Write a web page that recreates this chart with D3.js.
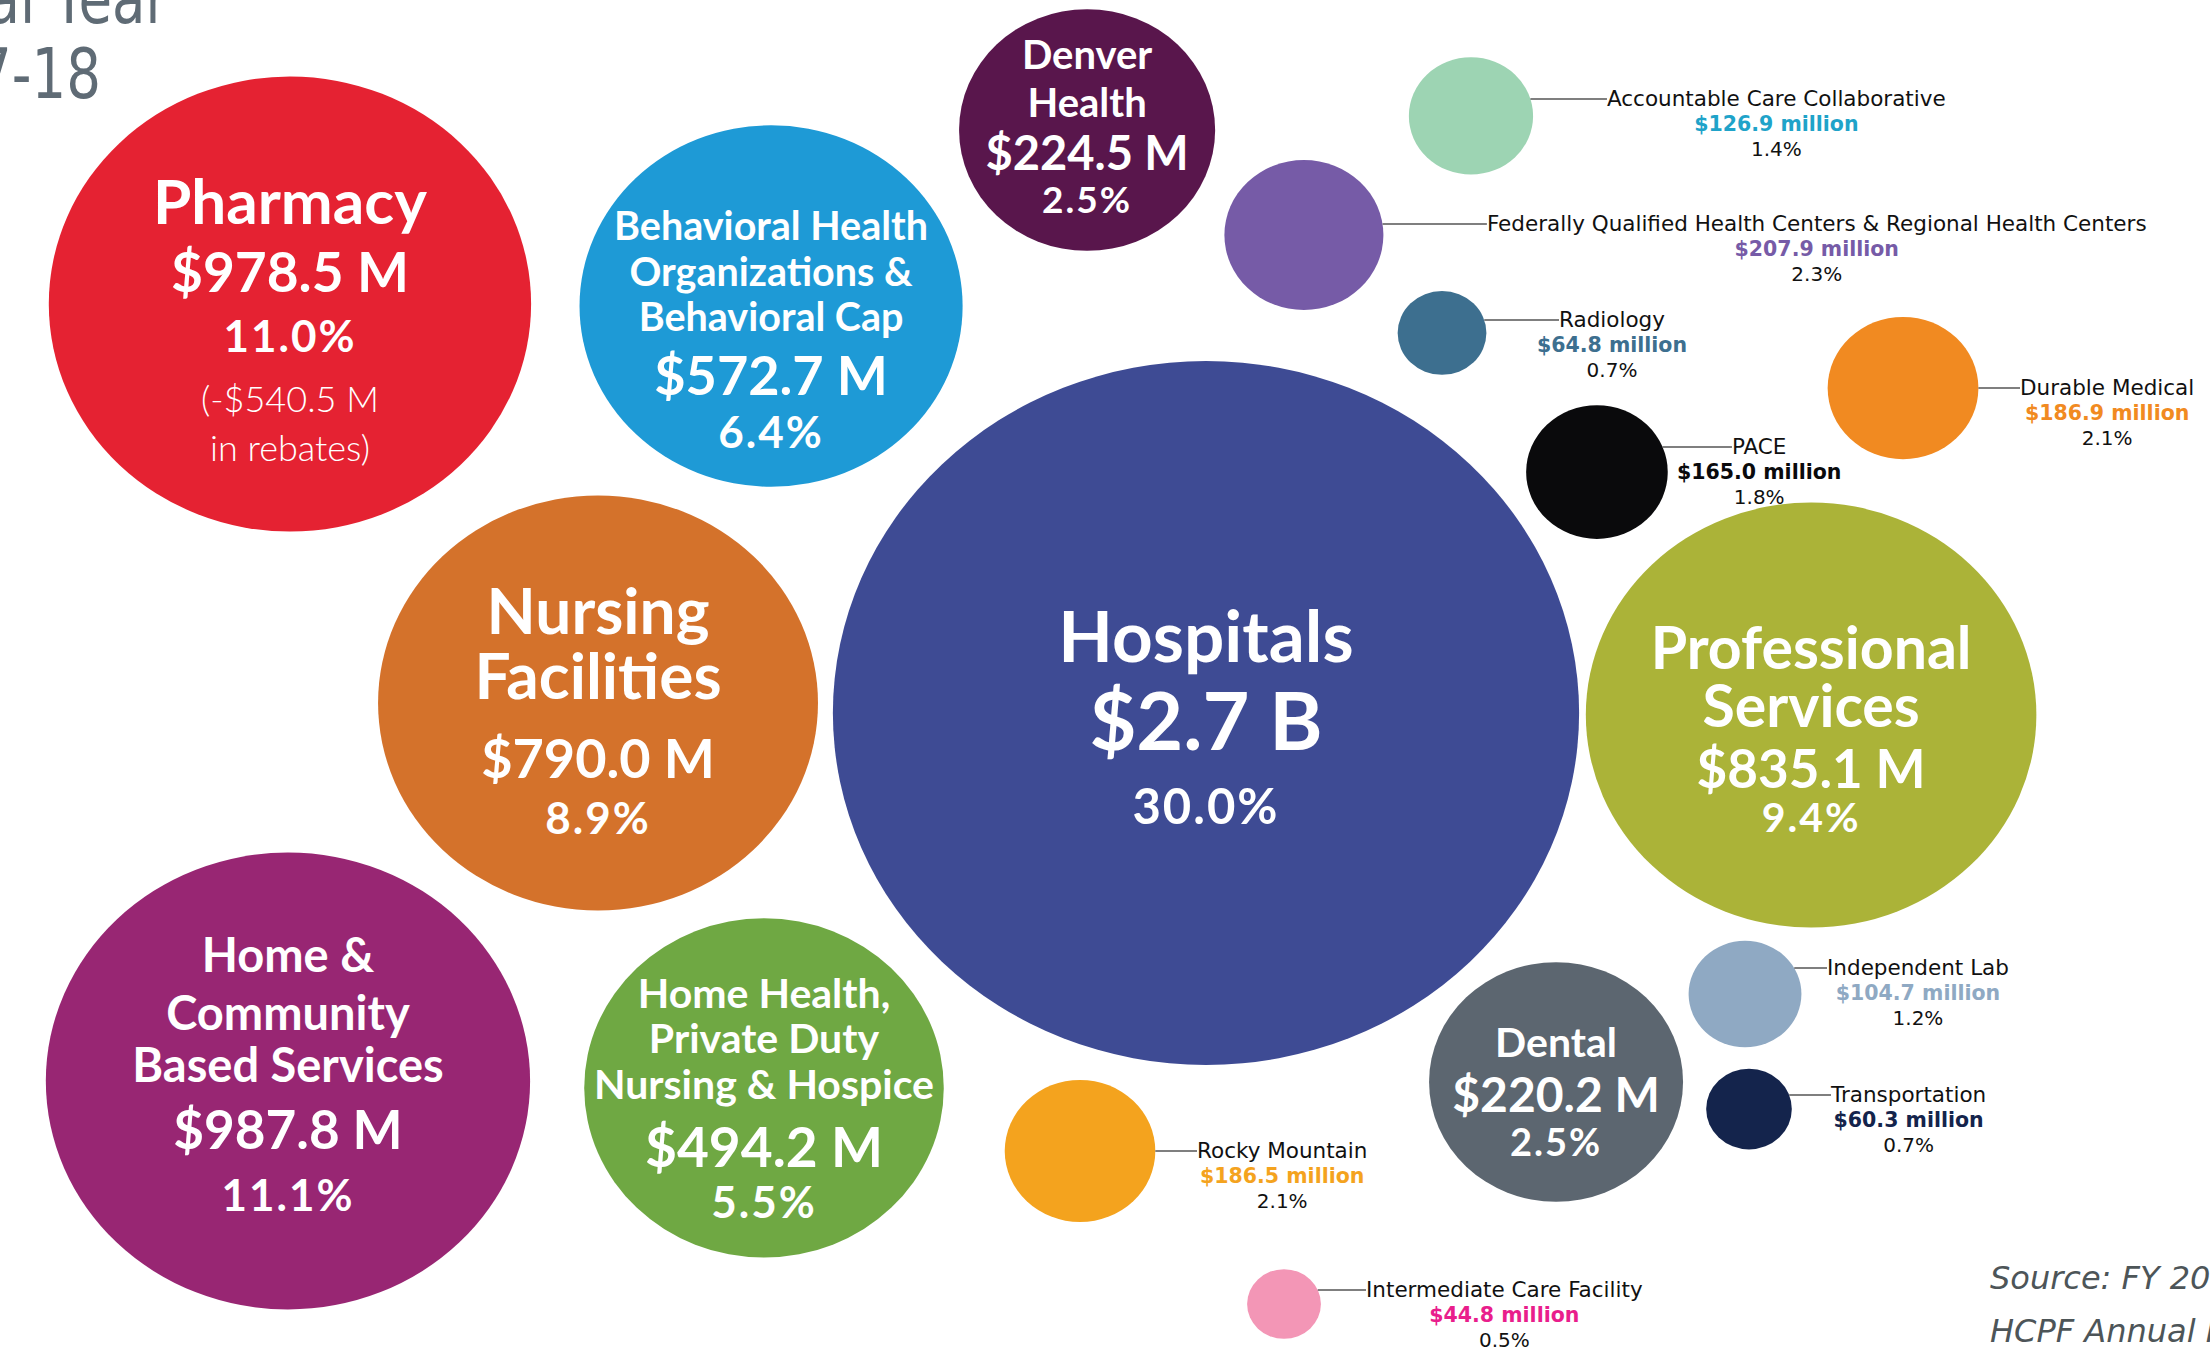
<!DOCTYPE html>
<html><head><meta charset="utf-8">
<script src="https://cdn.jsdelivr.net/npm/d3@7"></script>
<style>
html,body{margin:0;padding:0;background:#fff;overflow:hidden}
svg{display:block}
</style></head><body>
<svg id="chart" width="2210" height="1353"></svg>
<script>
// ---------------- DATA ----------------
const categories = [
  "Pharmacy",
  "Behavioral Health Organizations & Behavioral Cap",
  "Denver Health",
  "Accountable Care Collaborative",
  "Federally Qualified Health Centers & Regional Health Centers",
  "Radiology",
  "Durable Medical",
  "PACE",
  "Hospitals",
  "Nursing Facilities",
  "Professional Services",
  "Home & Community Based Services",
  "Home Health, Private Duty Nursing & Hospice",
  "Rocky Mountain",
  "Dental",
  "Independent Lab",
  "Transportation",
  "Intermediate Care Facility"
];
// expenditure, $ millions
const values   = [978.5, 572.7, 224.5, 126.9, 207.9, 64.8, 186.9, 165.0, 2700, 790.0, 835.1, 987.8, 494.2, 186.5, 220.2, 104.7, 60.3, 44.8];
// share of total, %
const percents = [11.0, 6.4, 2.5, 1.4, 2.3, 0.7, 2.1, 1.8, 30.0, 8.9, 9.4, 11.1, 5.5, 2.1, 2.5, 1.2, 0.7, 0.5];
const pharmacyRebates = 540.5;
const insideLabelled = ["Pharmacy","Behavioral Health Organizations & Behavioral Cap","Denver Health","Hospitals",
  "Nursing Facilities","Professional Services","Home & Community Based Services",
  "Home Health, Private Duty Nursing & Hospice","Dental"];
const titleLines  = ["Fiscal Year", "2017-18"];
const sourceLines = ["Source: FY 2017-18", "HCPF Annual Report"];

// ---------------- STYLES ----------------
const bubbleColors = ["#e52232","#1e9ad6","#59164c","#9dd4b3","#765ba7","#3d6f8f","#f18a21","#0a0a0c",
  "#3e4b94","#d4722b","#abb338","#982673","#6fa843","#f4a31e","#5c6670","#8fa9c3","#14244c","#f396b6"];
const calloutValueColors = {
  "Accountable Care Collaborative":"#1fa3c9",
  "Federally Qualified Health Centers & Regional Health Centers":"#765ba7",
  "Radiology":"#3d6f8f",
  "Durable Medical":"#f18a21",
  "PACE":"#0a0a0c",
  "Rocky Mountain":"#f4a31e",
  "Independent Lab":"#8fa9c3",
  "Transportation":"#14244c",
  "Intermediate Care Facility":"#e91e8c"
};

// ---------------- LAYOUT (percent of canvas) ----------------
const layoutX = [13.12, 34.89, 49.19, 66.56, 59.00, 65.25, 86.11, 72.26, 54.57, 27.06, 81.95, 13.03, 34.57, 48.87, 70.41, 78.96, 79.14, 58.10];
const layoutY = [22.47, 22.62,  9.61,  8.57, 17.37, 24.61, 28.68, 34.89, 52.70, 51.96, 52.85, 79.90, 80.41, 85.07, 79.97, 73.47, 81.97, 96.38];

// label layout for bubbles with text inside (offsets from bubble centre, px)
const insideSpec = {
  "Pharmacy": {lines:["Pharmacy"], nameSize:62, nameDy:[-80], valueSize:55, valueDy:-12, pctSize:44, pctDy:48},
  "Behavioral Health Organizations & Behavioral Cap": {lines:["Behavioral Health","Organizations &","Behavioral Cap"], nameSize:39.5, nameDy:[-66,-20,25], valueSize:54, valueDy:89, pctSize:44, pctDy:142},
  "Denver Health": {lines:["Denver","Health"], nameSize:40, nameDy:[-61,-13], valueSize:47, valueDy:40, pctSize:37, pctDy:83},
  "Hospitals": {lines:["Hospitals"], nameSize:71, nameDy:[-51], valueSize:81, valueDy:37, pctSize:49, pctDy:111},
  "Nursing Facilities": {lines:["Nursing","Facilities"], nameSize:64, nameDy:[-69,-4], valueSize:54, valueDy:75, pctSize:44, pctDy:131},
  "Professional Services": {lines:["Professional","Services"], nameSize:59, nameDy:[-46,12], valueSize:53, valueDy:73, pctSize:41, pctDy:117},
  "Home & Community Based Services": {lines:["Home &","Community","Based Services"], nameSize:47, nameDy:[-109,-51,1], valueSize:53, valueDy:68, pctSize:44, pctDy:130},
  "Home Health, Private Duty Nursing & Hospice": {lines:["Home Health,","Private Duty","Nursing & Hospice"], nameSize:41, nameDy:[-80,-35,11], valueSize:55, valueDy:79, pctSize:44, pctDy:130},
  "Dental": {lines:["Dental"], nameSize:41, nameDy:[-25], valueSize:48, valueDy:30, pctSize:38, pctDy:74}
};
// callout layout: leader-line y offset from centre, text start x offset from centre
const calloutSpec = {
  "Accountable Care Collaborative": {lineDy:-17, textDx:136},
  "Federally Qualified Health Centers & Regional Health Centers": {lineDy:-11, textDx:183},
  "Radiology": {lineDy:-13, textDx:117},
  "Durable Medical": {lineDy:0, textDx:117},
  "PACE": {lineDy:-25, textDx:135},
  "Rocky Mountain": {lineDy:0, textDx:117},
  "Independent Lab": {lineDy:-26, textDx:82},
  "Transportation": {lineDy:-14, textDx:82},
  "Intermediate Care Facility": {lineDy:-14, textDx:82}
};

// ---------------- CHART ----------------
const W = 2210, H = 1353;
const svg = d3.select("#chart");
const x = d3.scaleLinear().domain([0,100]).range([0,W]);
const y = d3.scaleLinear().domain([0,100]).range([0,H]);

const isInside = c => insideLabelled.includes(c);
const bigVals = values.filter((v,i)=>isInside(categories[i]));
const smallVals = values.filter((v,i)=>!isInside(categories[i]));
const rInside = d3.scalePow().exponent(0.43).domain([0, d3.max(bigVals)]).range([0, 352]);
const rCallout = d3.scaleSqrt().domain([0, d3.max(smallVals)]).range([0, 75]);
const ASPECT = 1.06;

const fmtBig = v => v >= 1000 ? `$${(v/1000).toFixed(1)} B` : `$${v.toFixed(1)} M`;
const fmtSmall = v => `$${v.toFixed(1)} million`;
const fmtPct = p => `${p.toFixed(1)}%`;

const nodes = categories.map((c,i)=>{
  const inside = isInside(c);
  const ry = inside ? rInside(values[i]) : rCallout(values[i]);
  return {name:c, value:values[i], pct:percents[i], inside, color:bubbleColors[i],
          cx:x(layoutX[i]), cy:y(layoutY[i]), ry, rx:ry*ASPECT};
});

// title (partially off-canvas, as in the original)
const title = svg.append("g").attr("font-family","'DejaVu Sans', sans-serif").attr("fill","#5f6b75").attr("font-size",70).attr("text-anchor","end");
title.append("text").attr("transform","translate(168,23) scale(0.78,1)").text(titleLines[0]);
title.append("text").attr("transform","translate(101,98) scale(0.78,1)").text(titleLines[1]);

// bubbles
svg.append("g").selectAll("ellipse").data(nodes).join("ellipse")
  .attr("cx",d=>d.cx).attr("cy",d=>d.cy).attr("rx",d=>d.rx).attr("ry",d=>d.ry)
  .attr("fill",d=>d.color);

// inside labels
const inG = svg.append("g").attr("font-family","Lato, 'Open Sans', sans-serif").attr("fill","#fff").attr("text-anchor","middle");
nodes.filter(d=>d.inside).forEach(d=>{
  const s = insideSpec[d.name];
  s.lines.forEach((t,k)=>{
    inG.append("text").attr("x",d.cx).attr("y",d.cy+s.nameDy[k]).attr("font-size",s.nameSize).attr("font-weight",700).text(t);
  });
  inG.append("text").attr("x",d.cx).attr("y",d.cy+s.valueDy).attr("font-size",s.valueSize).attr("font-weight",700).text(fmtBig(d.value));
  inG.append("text").attr("x",d.cx).attr("y",d.cy+s.pctDy).attr("font-size",s.pctSize).attr("font-weight",700).attr("letter-spacing",2).text(fmtPct(d.pct));
  if (d.name === "Pharmacy") {
    inG.append("text").attr("x",d.cx).attr("y",d.cy+108).attr("font-size",36).attr("font-weight",300).text(`(-$${pharmacyRebates.toFixed(1)} M`);
    inG.append("text").attr("x",d.cx).attr("y",d.cy+157).attr("font-size",36).attr("font-weight",300).text("in rebates)");
  }
});

// callouts
const coG = svg.append("g").attr("font-family","'DejaVu Sans', Verdana, sans-serif");
nodes.filter(d=>!d.inside).forEach(d=>{
  const s = calloutSpec[d.name];
  const ly = d.cy + s.lineDy;
  const t = Math.min(1, Math.abs(s.lineDy)/d.ry);
  const x0 = d.cx + d.rx*Math.sqrt(1 - t*t);
  const x1 = d.cx + s.textDx;
  coG.append("line").attr("x1",x0).attr("x2",x1).attr("y1",ly).attr("y2",ly).attr("stroke","#555").attr("stroke-width",1.5);
  const t1 = coG.append("text").attr("x",x1).attr("y",ly+7).attr("font-size",21.5).attr("fill","#111").text(d.name);
  const w = t1.node().getComputedTextLength();
  const mid = x1 + w/2;
  coG.append("text").attr("x",mid).attr("y",ly+32).attr("text-anchor","middle").attr("font-size",20.5).attr("font-weight",700)
    .attr("fill",calloutValueColors[d.name]).text(fmtSmall(d.value));
  coG.append("text").attr("x",mid).attr("y",ly+57).attr("text-anchor","middle").attr("font-size",20).attr("fill","#111").text(fmtPct(d.pct));
});

// source (cut off at the right edge, as in the original)
const src = svg.append("g").attr("font-family","'DejaVu Sans', sans-serif").attr("font-style","italic").attr("fill","#4d5558").attr("font-size",32);
src.append("text").attr("x",1990).attr("y",1289).text(sourceLines[0]);
src.append("text").attr("x",1990).attr("y",1342).text(sourceLines[1]);
</script>
</body></html>
